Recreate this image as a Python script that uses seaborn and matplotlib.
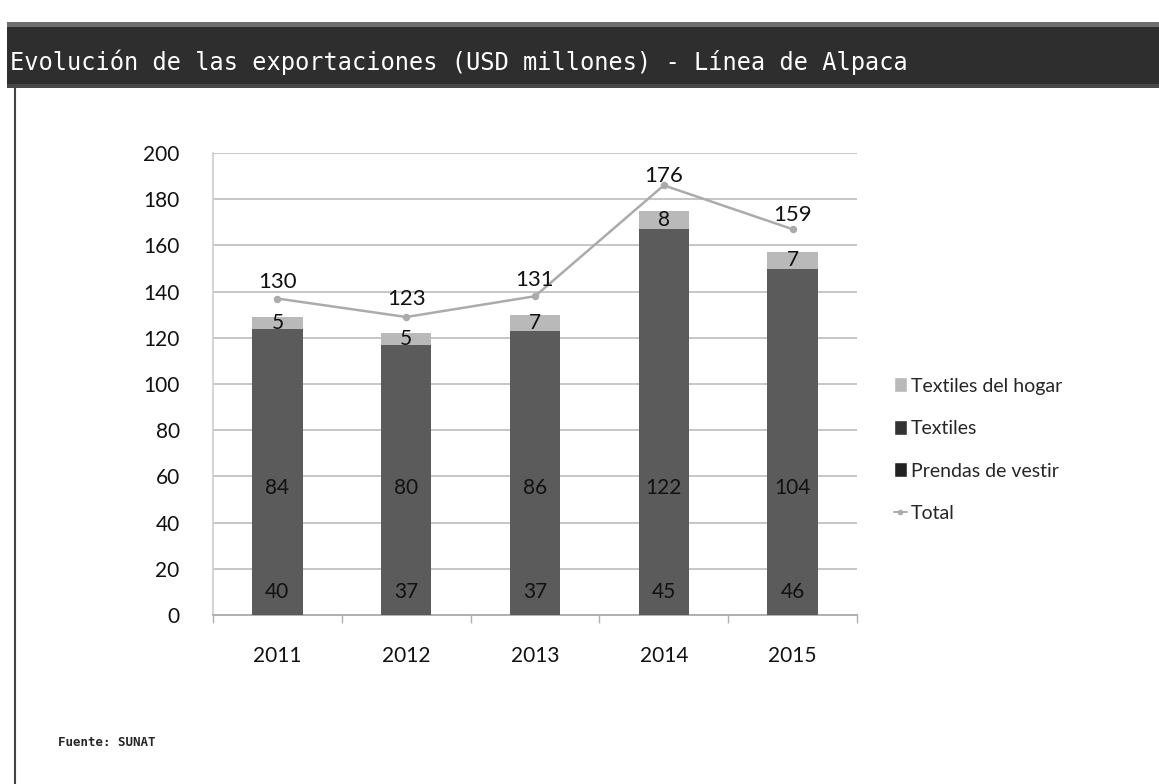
import pandas as pd
import matplotlib.pyplot as plt
import seaborn as sns
from matplotlib.patches import Patch, Rectangle
from matplotlib.lines import Line2D

# data
years = ["2011", "2012", "2013", "2014", "2015"]
prendas = [40, 37, 37, 45, 46]
textiles = [84, 80, 86, 122, 104]
hogar = [5, 5, 7, 8, 7]
total = [130, 123, 131, 176, 159]
# where the Total line is actually drawn in the scanned chart
total_line = [137, 129, 138, 186, 167]

df = pd.DataFrame({"year": years, "prendas": prendas, "textiles": textiles, "hogar": hogar,
                   "total": total, "total_line": total_line})
df["cum2"] = df["prendas"] + df["textiles"]
df["cum3"] = df["cum2"] + df["hogar"]

sns.set_theme(style="white")
plt.rcParams["font.family"] = ["Lato", "DejaVu Sans"]

W, H = 1159, 784
fig = plt.figure(figsize=(W / 100, H / 100), dpi=100)

# title bar
fig.patches.append(Rectangle((7 / W, 1 - 88 / H), 1, 66 / H, transform=fig.transFigure,
                             facecolor="#2e2e2e", edgecolor="none"))
fig.patches.append(Rectangle((7 / W, 1 - 27 / H), 1, 5 / H, transform=fig.transFigure,
                             facecolor="#6e6e6e", edgecolor="none"))
fig.patches.append(Rectangle((7 / W, 1 - 88 / H), 1, 4 / H, transform=fig.transFigure,
                             facecolor="#474747", edgecolor="none"))
fig.text(10 / W, 1 - 62 / H, "Evolución de las exportaciones (USD millones) - Línea de Alpaca",
         color="white", fontsize=17, va="center", ha="left", family=["DejaVu Sans Mono"])
# left border
fig.add_artist(Line2D([15 / W, 15 / W], [0, 1 - 88 / H], transform=fig.transFigure,
                      color="#444444", lw=1.5))

ax = fig.add_axes([213 / W, 1 - 615 / H, (857 - 213) / W, (615 - 153) / H])

# stacked bars drawn as overlapping cumulative bars
bw = 0.39
sns.barplot(data=df, x="year", y="cum3", color="#b9b9b9", width=bw, saturation=1, linewidth=0, ax=ax, zorder=2)
sns.barplot(data=df, x="year", y="cum2", color="#5b5b5b", width=bw, saturation=1, linewidth=0, ax=ax, zorder=3)
sns.barplot(data=df, x="year", y="prendas", color="#5b5b5b", width=bw, saturation=1, linewidth=0, ax=ax, zorder=4)

# total line
sns.pointplot(data=df, x="year", y="total_line", color="#ababab", markers="o", markersize=4,
              linewidth=1.8, ax=ax, zorder=5)

lbl = dict(ha="center", va="center", fontsize=15, color="#111111", zorder=6)
for i in range(len(years)):
    ax.text(i, 10, str(prendas[i]), **lbl)
    ax.text(i, 55, str(textiles[i]), **lbl)
    ax.text(i, df["cum2"][i] + hogar[i] / 2, str(hogar[i]), **lbl)
    ax.text(i, total[i] + 14, str(total[i]), ha="center", va="center", fontsize=16, color="#111111", zorder=6)

ax.set_xlim(-0.5, 4.5)
ax.set_ylim(0, 200)
ax.set_yticks(range(0, 201, 20))
ax.set_xlabel("")
ax.set_ylabel("")
ax.yaxis.grid(True, color="#c6c6c6", lw=1.4, zorder=0)
ax.set_axisbelow(True)
for s in ["top", "right"]:
    ax.spines[s].set_visible(False)
ax.spines["left"].set_color("#cfcfcf")
ax.spines["bottom"].set_color("#b0b0b0")
ax.spines["bottom"].set_linewidth(1.4)
ax.tick_params(axis="y", labelsize=15, length=0, pad=24, labelcolor="#111111")
ax.tick_params(axis="x", labelsize=15, length=0, pad=22, labelcolor="#111111")
ax.set_xticks([i + 0.5 for i in range(-1, 5)], minor=True)
ax.tick_params(axis="x", which="minor", length=6, color="#b0b0b0", width=1, bottom=True)

handles = [
    Patch(facecolor="#b9b9b9", label="Textiles del hogar"),
    Patch(facecolor="#333333", label="Textiles"),
    Patch(facecolor="#222222", label="Prendas de vestir"),
    Line2D([0], [0], color="#ababab", marker="o", markersize=3, lw=1.4, label="Total"),
]
fig.legend(handles=handles, loc="upper left", bbox_to_anchor=(876 / W, 1 - 360 / H), frameon=False,
           fontsize=14, handlelength=0.7, handleheight=0.8, handletextpad=0.2, labelspacing=1.3)

fig.text(58 / W, 1 - 743 / H, "Fuente: SUNAT", fontsize=9, fontweight="bold",
         family=["DejaVu Sans Mono"], va="center", ha="left")

fig.savefig("out.png", dpi=100)
